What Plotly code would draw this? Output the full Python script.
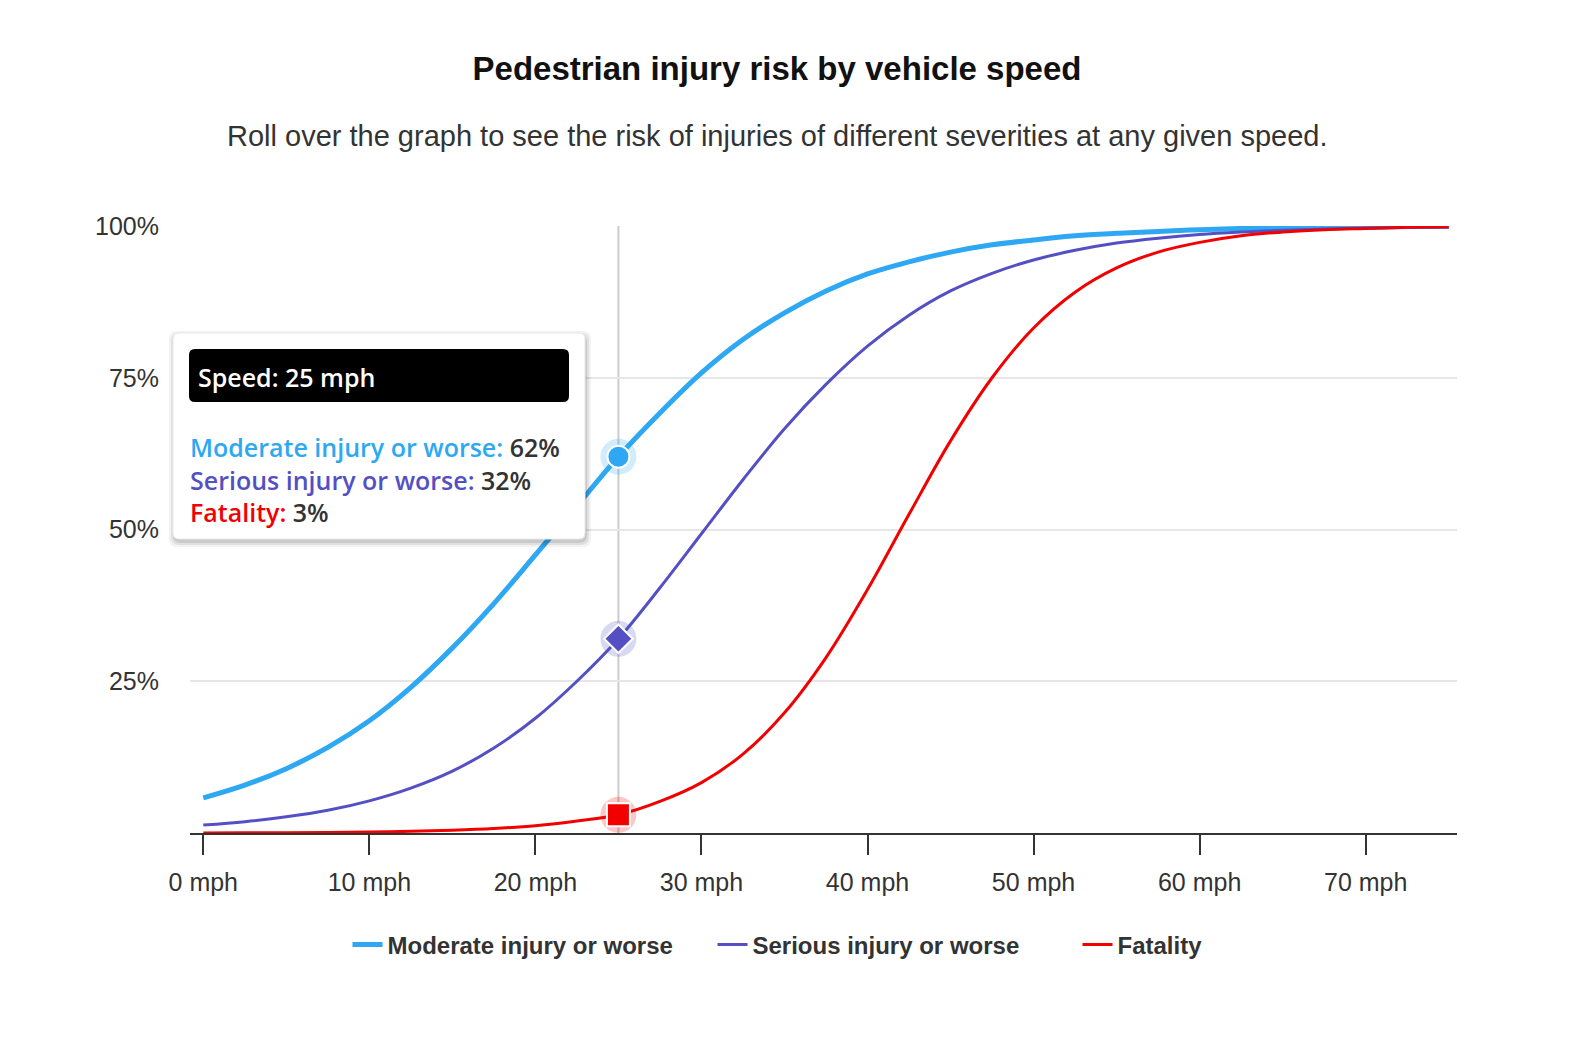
import plotly.graph_objects as go

# speeds (mph) and risk (%)
speed = [0, 2.5, 5, 7.5, 10, 12.5, 15, 17.5, 20, 22.5, 25, 27.5, 30, 32.5, 35, 37.5,
         40, 42.5, 45, 47.5, 50, 52.5, 55, 57.5, 60, 62.5, 65, 67.5, 70, 72.5, 75]
moderate = [5.8, 7.9, 10.6, 14.1, 18.5, 24.0, 30.5, 37.8, 45.8, 53.9, 62.0, 69.2, 75.8, 81.3,
            85.7, 89.3, 92.1, 94.1, 95.7, 96.9, 97.7, 98.4, 98.8, 99.1, 99.4, 99.6, 99.7,
            99.8, 99.85, 99.9, 99.93]
serious = [1.3, 1.87, 2.66, 3.74, 5.3, 7.4, 10.2, 14.0, 18.9, 25.0, 32.0, 40.4, 49.3, 58.2,
           66.6, 73.9, 80.2, 85.3, 89.3, 92.2, 94.4, 96.0, 97.2, 98.0, 98.6, 99.0, 99.3,
           99.5, 99.66, 99.76, 99.83]
fatality = [0.02, 0.04, 0.06, 0.1, 0.17, 0.27, 0.45, 0.74, 1.21, 1.98, 3.0, 5.2, 8.3, 13.0,
            19.8, 28.9, 40.1, 52.5, 64.6, 75.0, 83.2, 89.1, 93.1, 95.7, 97.3, 98.4, 99.0,
            99.4, 99.6, 99.78, 99.86]

series_names = ["Moderate injury or worse", "Serious injury or worse", "Fatality"]
series_colors = ["#2EA8F2", "#5450C4", "#F20000"]
series_widths = [5, 3, 3]
marker_symbols = ["circle", "diamond", "square"]

hover_speed = 25
hover_values = [62, 32, 3]

x_ticks = [0, 10, 20, 30, 40, 50, 60, 70]
x_tick_labels = ["0 mph", "10 mph", "20 mph", "30 mph", "40 mph", "50 mph", "60 mph", "70 mph"]
y_ticks = [25, 50, 75, 100]
y_tick_labels = ["25%", "50%", "75%", "100%"]

# the page body has an 8px margin, so the figure sits 8px in from the window corner
OFF = 8
W, H = 1572 - 2 * OFF, 1058 - 2 * OFF
# plot area in window pixels
L, R, T, B = 190, 1457, 226, 833

def px_x(p):
    return (p - L) / (R - L)

def px_y(p):
    return (B - p) / (B - T)

def rounded_rect(x0, y0, x1, y1, r):
    # window-pixel box -> svg path in paper coords with rounded corners
    rx = r / (R - L)
    ry = r / (B - T)
    a, b, c, d = px_x(x0), px_y(y1), px_x(x1), px_y(y0)
    return (f"M {a+rx},{b} L {c-rx},{b} Q {c},{b} {c},{b+ry} L {c},{d-ry} Q {c},{d} {c-rx},{d} "
            f"L {a+rx},{d} Q {a},{d} {a},{d-ry} L {a},{b+ry} Q {a},{b} {a+rx},{b} Z")

fig = go.Figure()

all_values = [moderate, serious, fatality]
for name, vals, color, w in zip(series_names, all_values, series_colors, series_widths):
    fig.add_trace(go.Scatter(x=speed, y=vals, mode="lines", name=name,
                             line=dict(color=color, width=w, shape="spline", smoothing=1.0)))

# hover markers with halo
for val, color, sym in zip(hover_values, series_colors, marker_symbols):
    fig.add_trace(go.Scatter(x=[hover_speed], y=[val], mode="markers", showlegend=False,
                             marker=dict(size=36, color=color, opacity=0.22, line=dict(width=0))))
    fig.add_trace(go.Scatter(x=[hover_speed], y=[val], mode="markers", showlegend=False,
                             marker=dict(size=22 if sym != "square" else 23, color=color,
                                         symbol=sym, line=dict(color="white", width=2))))

shapes = [
    dict(type="line", xref="x", yref="paper", x0=hover_speed, x1=hover_speed, y0=0, y1=1,
         line=dict(color="#cccccc", width=2), layer="below"),
]
# tooltip shadow + box
for off, op in [(6, 0.05), (4, 0.07), (2, 0.10)]:
    shapes.append(dict(type="path", xref="paper", yref="paper",
                       path=rounded_rect(173 - off + 2, 333 - off + 4, 585 + off, 539 + off + 2, 8),
                       fillcolor=f"rgba(0,0,0,{op})", line=dict(width=0)))
shapes.append(dict(type="path", xref="paper", yref="paper",
                   path=rounded_rect(173, 333, 585, 539, 6),
                   fillcolor="white", line=dict(color="#e8e8e8", width=1)))
shapes.append(dict(type="path", xref="paper", yref="paper",
                   path=rounded_rect(189, 349, 569, 402, 6),
                   fillcolor="black", line=dict(width=0)))

arial = "Liberation Sans, Arial, sans-serif"
tip_font = "Open Sans, Noto Sans, sans-serif"

tip_lines = [f"<span style='color:{c}'>{n}:</span> <span style='color:#333333'>{v}%</span>"
             for n, v, c in zip(series_names, hover_values, series_colors)]

annotations = [
    dict(text="Roll over the graph to see the risk of injuries of different severities at any given speed.",
         xref="paper", yref="paper", x=px_x(777), y=px_y(136), showarrow=False,
         font=dict(family=arial, size=29, color="#333333"),
         xanchor="center", yanchor="middle"),
    dict(text=f"Speed: {hover_speed} mph", xref="paper", yref="paper", x=px_x(196), y=px_y(377),
         showarrow=False, xanchor="left", yanchor="middle",
         font=dict(family=tip_font, size=25, color="white", weight=600)),
    dict(text="<br>".join(tip_lines), xref="paper", yref="paper", x=px_x(188), y=px_y(479),
         showarrow=False, xanchor="left", yanchor="middle", align="left",
         font=dict(family=tip_font, size=25, color="#333333", weight=600)),
]

fig.update_layout(
    width=W, height=H,
    margin=dict(l=L - OFF, r=W - (R - OFF), t=T - OFF, b=H - (B - OFF)),
    paper_bgcolor="white", plot_bgcolor="white",
    title=dict(text="<b>Pedestrian injury risk by vehicle speed</b>", xref="container", yref="container",
               x=(777 - OFF) / W, y=1 - (68 - OFF) / H, xanchor="center", yanchor="middle",
               font=dict(family=arial, size=33, color="#111111")),
    showlegend=True,
    legend=dict(orientation="h", xref="container", yref="container",
                x=(895 - OFF) / W, y=1 - (945 - OFF) / H,
                xanchor="center", yanchor="middle",
                font=dict(family=arial, size=24, color="#333333", weight="bold"),
                itemwidth=30, tracegroupgap=0, entrywidth=320, entrywidthmode="pixels"),
    hovermode=False,
    shapes=shapes,
    annotations=annotations,
    xaxis=dict(range=[-0.8, 75.5], tickvals=x_ticks, ticktext=x_tick_labels, showgrid=False,
               zeroline=False, showline=True, linecolor="#333333", linewidth=2,
               ticks="outside", ticklen=20, tickwidth=2, tickcolor="#333333",
               ticklabelstandoff=6,
               tickfont=dict(family=arial, size=25, color="#333333")),
    yaxis=dict(range=[0, 100], tickvals=y_ticks, ticktext=y_tick_labels, showgrid=True,
               gridcolor="#e6e6e6", gridwidth=1.5, zeroline=False, showline=False,
               ticks="", ticklabelstandoff=30,
               tickfont=dict(family=arial, size=25, color="#333333")),
)

fig.write_html("out.html")
